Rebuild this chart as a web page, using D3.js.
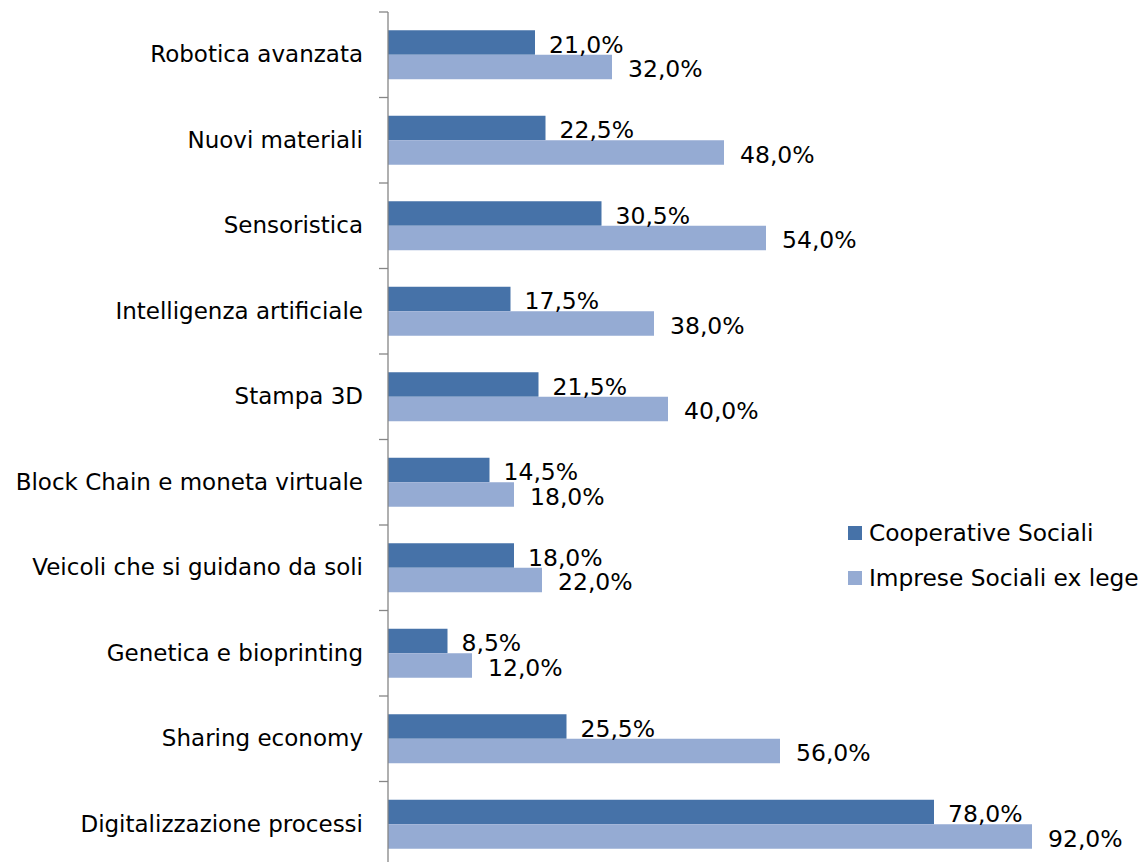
<!DOCTYPE html>
<html><head><meta charset="utf-8">
<script src="https://cdn.jsdelivr.net/npm/d3@7"></script>
<style>
html,body{margin:0;padding:0;background:#fff;}
svg{display:block;}
text{font-family:"DejaVu Sans",sans-serif;fill:#000;}
</style></head>
<body>
<svg id="c" width="1144" height="862"></svg>
<script>
const categories = ["Robotica avanzata","Nuovi materiali","Sensoristica","Intelligenza artificiale","Stampa 3D","Block Chain e moneta virtuale","Veicoli che si guidano da soli","Genetica e bioprinting","Sharing economy","Digitalizzazione processi"];
const seriesNames = ["Cooperative Sociali","Imprese Sociali ex lege"];
const cooperative = [21.0,22.5,30.5,17.5,21.5,14.5,18.0,8.5,25.5,78.0];
const imprese = [32.0,48.0,54.0,38.0,40.0,18.0,22.0,12.0,56.0,92.0];
const colors = ["#4672a8","#95abd3"];

const svg = d3.select("#c");
const x0 = 388, plotTop = 12, bandH = 85.5;
const x = d3.scaleLinear().domain([0,100]).range([x0, x0+700]);
const y = d3.scaleBand().domain(categories).range([plotTop, plotTop + bandH*categories.length]).paddingInner(0.427).paddingOuter(0.2135);
const ySub = d3.scaleBand().domain(seriesNames).range([0, y.bandwidth()]);
const fmt = v => d3.format(".1f")(v).replace(".", ",") + "%";

const data = categories.map((c,i)=>({c, vals:[cooperative[i], imprese[i]]}));

const g = svg.append("g");
const groups = g.selectAll("g.cat").data(data).join("g").attr("transform", d=>`translate(0,${y(d.c)})`);
groups.selectAll("rect").data(d=>d.vals.map((v,j)=>({v,j}))).join("rect")
  .attr("x", x(0)).attr("y", d=>ySub(seriesNames[d.j]))
  .attr("width", d=>x(d.v)-x(0)).attr("height", ySub.bandwidth())
  .attr("fill", d=>colors[d.j]);
groups.selectAll("text.val").data(d=>d.vals.map((v,j)=>({v,j}))).join("text").attr("class","val")
  .attr("x", d=>x(d.v)+ (d.j===0?14:16)).attr("y", d=>ySub(seriesNames[d.j]) + ySub.bandwidth() - 2)
  .attr("font-size", 23.5).text(d=>fmt(d.v));

// axis
const yAxisScale = d3.scaleBand().domain(categories).range([plotTop, plotTop + bandH*categories.length]);
const axisG = svg.append("g").attr("transform", `translate(${x0},0)`)
  .call(d3.axisLeft(yAxisScale).tickSize(0).tickPadding(25));
axisG.select(".domain").attr("stroke","#868686").attr("stroke-width",1.3).attr("d", `M0,${plotTop}V${plotTop+bandH*categories.length}`);
axisG.selectAll(".tick text").attr("font-size",23).attr("font-family",'"DejaVu Sans",sans-serif').attr("fill","#000");
const tickPos = d3.range(categories.length+1).map(i=>plotTop+i*bandH);
axisG.selectAll("line.tk").data(tickPos).join("line").attr("class","tk")
  .attr("x1",-9).attr("x2",0).attr("y1",d=>d).attr("y2",d=>d).attr("stroke","#868686").attr("stroke-width",1.3);

// legend
const leg = svg.append("g").attr("transform","translate(848,518)");
seriesNames.forEach((s,i)=>{
  const r = leg.append("g").attr("transform",`translate(0,${i*45})`);
  r.append("rect").attr("x",0).attr("y",8).attr("width",14).attr("height",14).attr("fill",colors[i]);
  r.append("text").attr("x",21).attr("y",23).attr("font-size",23.3).text(s);
});
</script>
</body></html>
